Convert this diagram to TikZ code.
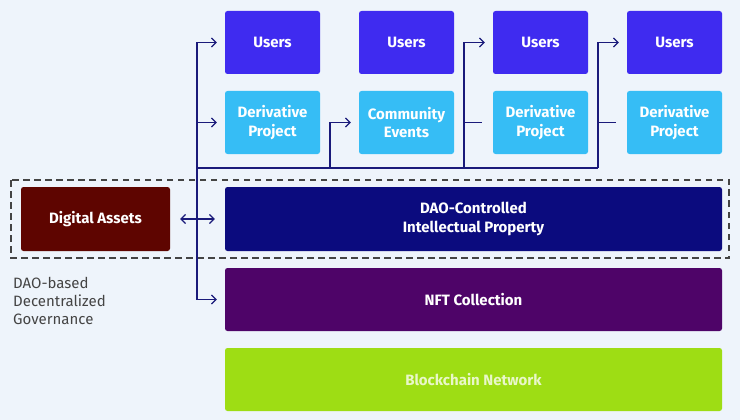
\documentclass[tikz,border=0pt]{standalone}
\usepackage{fontspec}
\setmainfont{Fira Sans}
\usetikzlibrary{arrows.meta}
\usetikzlibrary{positioning}

\definecolor{bgcol}{HTML}{EEF4FB}
\definecolor{usercol}{HTML}{3F2BF0}
\definecolor{derivcol}{HTML}{36BDF5}
\definecolor{assetcol}{HTML}{5E0500}
\definecolor{daocol}{HTML}{0B0B7E}
\definecolor{nftcol}{HTML}{4E0468}
\definecolor{chaincol}{HTML}{9EDD14}
\definecolor{chaintext}{HTML}{E9F7C9}
\definecolor{linkcol}{HTML}{1A1A7A}
\definecolor{govcol}{HTML}{444444}

\begin{document}
\begin{tikzpicture}[x=1pt, y=-1pt,
    box/.style={rectangle, rounded corners=2.5pt, inner sep=0pt, align=center,
        text=white, font=\fontsize{15}{18.5}\selectfont\bfseries},
    smallbox/.style={box, minimum width=95pt, minimum height=63pt},
    widebox/.style={box, minimum width=497pt, minimum height=63pt},
    link/.style={draw=linkcol, line width=1.2pt},
    arr/.style={link, -{Straight Barb[length=4.5pt, width=9pt]}, shorten >=8pt}
]
    % background
    \fill[bgcol] (0,0) rectangle (740,420);

    % top two rows
    \node[smallbox, fill=usercol] (u1) at (272.5,42.5) {Users};
    \node[smallbox, fill=usercol] (u2) at (406.5,42.5) {Users};
    \node[smallbox, fill=usercol] (u3) at (540.5,42.5) {Users};
    \node[smallbox, fill=usercol] (u4) at (674.5,42.5) {Users};
    \node[smallbox, fill=derivcol] (d1) at (272.5,122.5) {Derivative\\Project};
    \node[smallbox, fill=derivcol] (ce) at (406.5,122.5) {Community\\Events};
    \node[smallbox, fill=derivcol] (d3) at (540.5,122.5) {Derivative\\Project};
    \node[smallbox, fill=derivcol] (d4) at (674.5,122.5) {Derivative\\Project};

    % layers
    \node[box, fill=assetcol, minimum width=149pt, minimum height=64pt] (assets) at (95.5,219) {Digital Assets};
    \node[widebox, fill=daocol, minimum height=64pt] (dao) at (473.5,219) {DAO-Controlled\\Intellectual Property};
    \node[widebox, fill=nftcol] (nft) at (473.5,299.5) {NFT Collection};
    \node[widebox, fill=chaincol, text=chaintext] (chain) at (473.5,379.5) {Blockchain Network};

    \draw[govcol, line width=1.3pt, dash pattern=on 6.5pt off 4.5pt] (11,180) rectangle (729,258);
    \node[anchor=north west, align=left, text=govcol, font=\fontsize{15}{18}\selectfont, inner sep=0pt] (gov) at (13,277) {DAO-based\\Decentralized\\Governance};

    % connectors
    \coordinate (top) at (197,42.5);
    \coordinate (bot) at (197,299.5);
    \coordinate (b1) at (197,168);
    \coordinate (b2) at (330,168);
    \coordinate (b3) at (464,168);
    \coordinate (b4) at (598,168);

    \draw[link] (top) -- (bot);
    \draw[link] (b1) -- (b4);
    \draw[arr] (top) -- (u1.west);
    \draw[arr] (top |- d1) -- (d1.west);
    \draw[arr] (bot) -- (nft.west);
    \draw[arr] (b2) |- (ce.west);
    \draw[arr] (b3) |- (u3.west);
    \draw[arr] (b4) |- (u4.west);
    \draw[link] (b3 |- d3) -- ++(18,0);
    \draw[link] (b4 |- d4) -- ++(18,0);
    \draw[link, {Straight Barb[length=4.5pt, width=9pt]}-{Straight Barb[length=4.5pt, width=9pt]}, shorten <=10pt, shorten >=10pt] (assets.east) -- (dao.west);
\end{tikzpicture}
\end{document}
